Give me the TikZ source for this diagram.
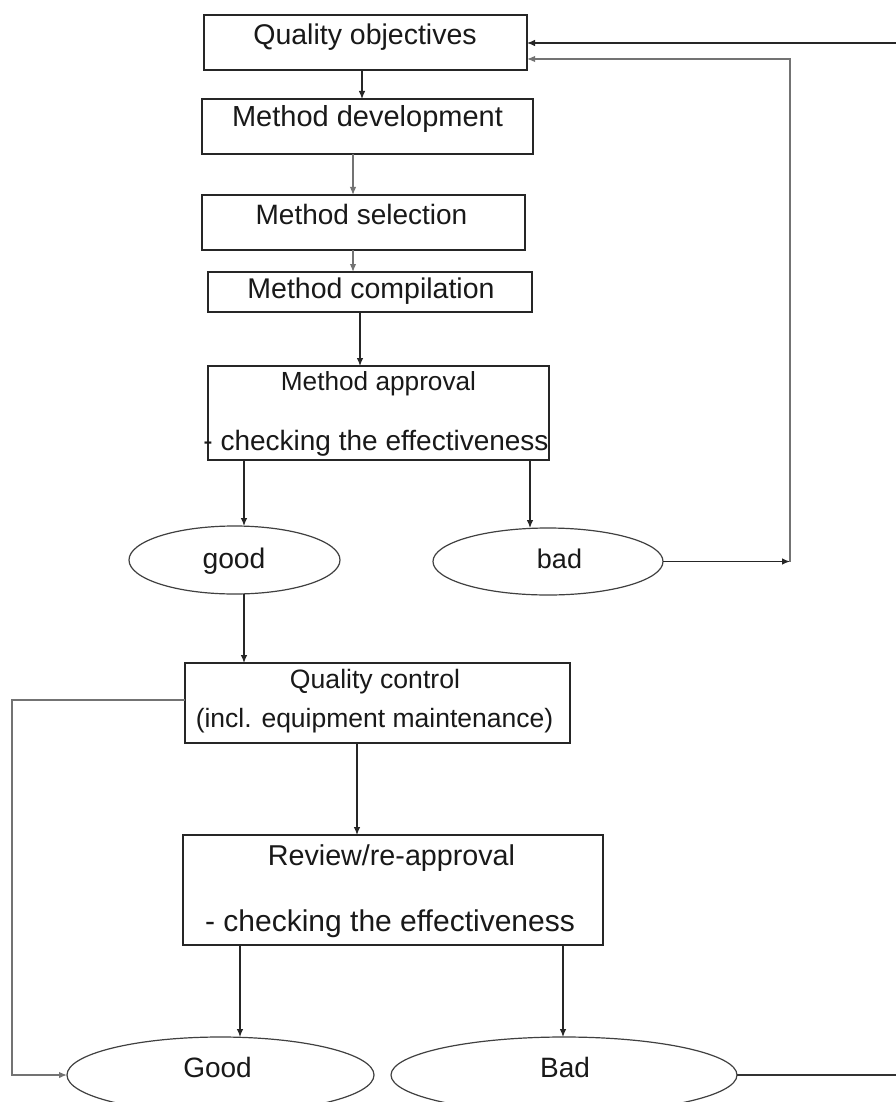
\documentclass[tikz,border=0pt]{standalone}
\usepackage{fontspec}
\setmainfont{Liberation Sans}
\usetikzlibrary{shapes.geometric,arrows.meta}
\tikzset{
  boxnode/.style={draw=black!85, line width=1.4pt, rectangle, inner sep=0pt, outer sep=0pt, fill=white},
  ellnode/.style={draw=black!75, line width=1.2pt, ellipse, inner sep=0pt, outer sep=0pt},
  txt/.style={font=\fontsize{#1}{#1}\selectfont, inner sep=0pt, anchor=base, text=black!90},
  txt/.default=28,
  arr/.style={draw=black!85, line width=1.1pt, -{Latex[length=8pt,width=6.5pt]}},
  grayarr/.style={draw=black!55, line width=1.4pt, -{Latex[length=8pt,width=6.5pt]}},
  plainline/.style={draw=black!80, line width=1.2pt}
}
\begin{document}
\begin{tikzpicture}[x=1pt,y=-1pt]
\useasboundingbox (0,0) rectangle (896,1102);
\clip (0,0) rectangle (896,1102);
\fill[white] (0,0) rectangle (896,1102);

% boxes
\node[boxnode, minimum width=323pt, minimum height=55pt] (qo) at (365.5,42.5) {};
\node[boxnode, minimum width=331pt, minimum height=55pt] (md) at (367.5,126.5) {};
\node[boxnode, minimum width=323pt, minimum height=55pt] (ms) at (363.5,222.5) {};
\node[boxnode, minimum width=324pt, minimum height=40pt] (mc) at (370,292) {};
\node[boxnode, minimum width=341pt, minimum height=94pt] (ap) at (378.5,413) {};
\node[boxnode, minimum width=385pt, minimum height=80pt] (qc) at (377.5,703) {};
\node[boxnode, minimum width=420pt, minimum height=110pt] (rv) at (393,890) {};

% ellipses
\node[ellnode, minimum width=211pt, minimum height=68pt] (good) at (234.5,560) {};
\node[ellnode, minimum width=230pt, minimum height=67pt] (bad) at (548,561.5) {};
\node[ellnode, minimum width=307pt, minimum height=76pt] (Good) at (220.5,1075) {};
\node[ellnode, minimum width=346pt, minimum height=76pt] (Bad) at (564,1075) {};

% texts
\node[txt=28.5] (tqo) at (365,45) {Quality objectives};
\node[txt=29] (tmd) at (367.5,127) {Method development};
\node[txt=28] (tms) at (361.5,224) {Method selection};
\node[txt=28.5] (tmc) at (371,298) {Method compilation};
\node[txt=26.2] (tap1) at (378.5,390) {Method approval};
\node[txt=28] (tap2) at (376,450) {- checking the effectiveness};
\node[txt=26.6] (tqc1) at (375,688) {Quality control};
\node[txt=26.5] (tqc2) at (374.5,727) {(incl. equipment maintenance)};
\node[txt=28.7] (trv1) at (391.5,865) {Review/re-approval};
\node[txt=30] (trv2) at (390,931) {- checking the effectiveness};
\node[txt=28.3] (tgood) at (234,568) {good};
\node[txt=27] (tbad) at (559.5,568) {bad};
\node[txt=28] (tGood) at (217.5,1077) {Good};
\node[txt=28] (tBad) at (565,1077) {Bad};

% coordinates for loops
\coordinate (rt) at (896,43);
\coordinate (c1) at (790,561.5);
\coordinate (c2) at (790,59);
\coordinate (l1) at (12,700);
\coordinate (l2) at (12,1075);

% main flow
\draw[arr] (qo.south -| 362,0) -- (md.north -| 362,0);
\draw[grayarr] (md.south -| 353,0) -- (ms.north -| 353,0);
\draw[grayarr] (ms.south -| 353,0) -- (mc.north -| 353,0);
\draw[arr] (mc.south -| 360,0) -- (ap.north -| 360,0);
\draw[arr] (ap.south -| 244,0) -- (good.north -| 244,0);
\draw[arr] (ap.south -| 530,0) -- (bad.north -| 530,0);
\draw[arr] (good.south -| 244,0) -- (qc.north -| 244,0);
\draw[arr] (qc.south -| 357,0) -- (rv.north -| 357,0);
\draw[arr] (rv.south -| 240,0) -- (Good.north -| 240,0);
\draw[arr] (rv.south -| 563,0) -- (Bad.north -| 563,0);

% feedback loops
\draw[arr] (bad.east) -- (c1);
\draw[grayarr] (c1) -- (c2) -- (c2 -| qo.east);
\draw[arr] (rt) -- (rt -| qo.east);
\draw[plainline] (Bad.east) -- (Bad.east -| rt);
\draw[grayarr] (qc.west |- l1) -- (l1) -- (l2) -- (Good.west);
\end{tikzpicture}
\end{document}
